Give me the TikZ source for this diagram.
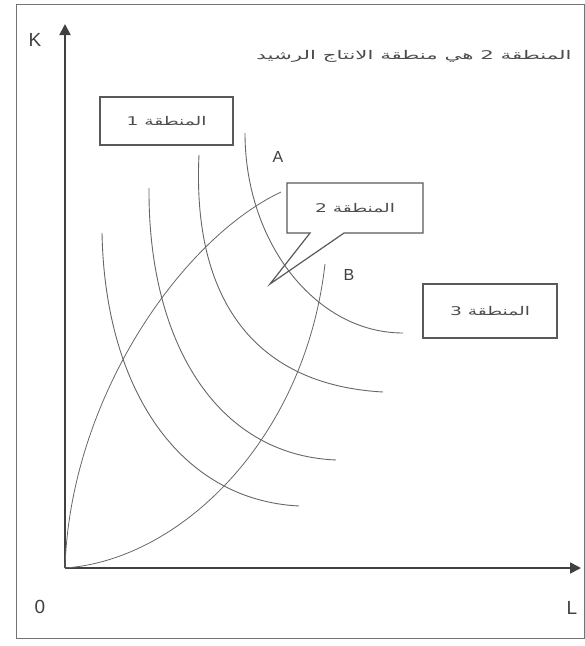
\documentclass[tikz,border=0pt]{standalone}
\usepackage{fontspec}
\setmainfont{Liberation Sans}
\newfontfamily\arabicfont[Script=Arabic]{DejaVu Sans}
\TeXXeTstate=1
\usetikzlibrary{arrows.meta, positioning, calc, shapes.callouts}
\newcommand{\zonelabel}[1]{\resizebox{80pt}{\height}{\beginR #1\endR}}
\tikzset{
    axis/.style={
        line width=1.8pt, draw=black!75, -{Triangle[length=11pt, width=11pt]}
    },
    isoquant/.style={
        line width=0.9pt, draw=black!60
    },
    ridge/.style={
        line width=0.8pt, draw=black!60
    },
    zone/.style={
        rectangle, minimum width=133pt, minimum height=48pt,
        align=center, draw=black!65, line width=1.2pt, text=black!70,
        font=\arabicfont\fontsize{12}{14}\selectfont
    },
    axislabel/.style={
        font=\fontsize{19}{21}\selectfont, text=black!75
    },
    pointlabel/.style={
        font=\fontsize{16}{18}\selectfont, text=black!75
    }
}

\begin{document}
\begin{tikzpicture}[x=1pt, y=-1pt]
    \useasboundingbox (0,0) rectangle (585,646);
    % frame
    \draw[black!55, line width=1pt] (16,4) rectangle (584,638);

    % axes
    \coordinate (O) at (65,568);
    \coordinate (ktip) at (65,24);
    \coordinate (ltip) at (581,568);
    \draw[axis] (O) -- (ktip);
    \draw[axis] (O) -- (ltip);
    \node[axislabel] (k) at (35,40) {K};
    \node[axislabel] (zero) at (40,607) {0};
    \node[axislabel] (l) at (572,608) {L};

    % isoquants
    \draw[isoquant] (102,233) .. controls (105,390) and (180,500) .. (299,506);
    \draw[isoquant] (149,188) .. controls (148,340) and (215,455) .. (336,460);
    \draw[isoquant] (199,155) .. controls (192,300) and (255,385) .. (383,392);
    \draw[isoquant] (245,133) .. controls (245,243) and (316,333) .. (403,333);

    % ridge lines
    \coordinate (rayA) at (281,192);
    \coordinate (rayB) at (325,264);
    \draw[ridge] (O) .. controls (70,400) and (180,240) .. (rayA);
    \draw[ridge] (O) .. controls (180,560) and (305,440) .. (rayB);
    \node[pointlabel] (a) at (278,157) {A};
    \node[pointlabel] (b) at (349,275) {B};

    % zones
    \node[zone] (zone1) at (166.5,121) {\zonelabel{المنطقة 1}};
    \coordinate (tip2) at (270,284);
    \node[zone, rectangle callout, minimum width=136pt, minimum height=50pt,
          callout absolute pointer={(tip2)}, callout pointer width=34pt] (zone2) at (355,208) {\zonelabel{المنطقة 2}};
    \node[zone, minimum width=134pt, minimum height=54pt] (zone3) at (490,311) {\zonelabel{المنطقة 3}};

    \node[text=black!70, font=\arabicfont\fontsize{12}{14}\selectfont, anchor=east] (title) at (575,56)
        {\resizebox{315pt}{\height}{\beginR المنطقة 2 هي منطقة الانتاج الرشيد\endR}};
\end{tikzpicture}
\end{document}
